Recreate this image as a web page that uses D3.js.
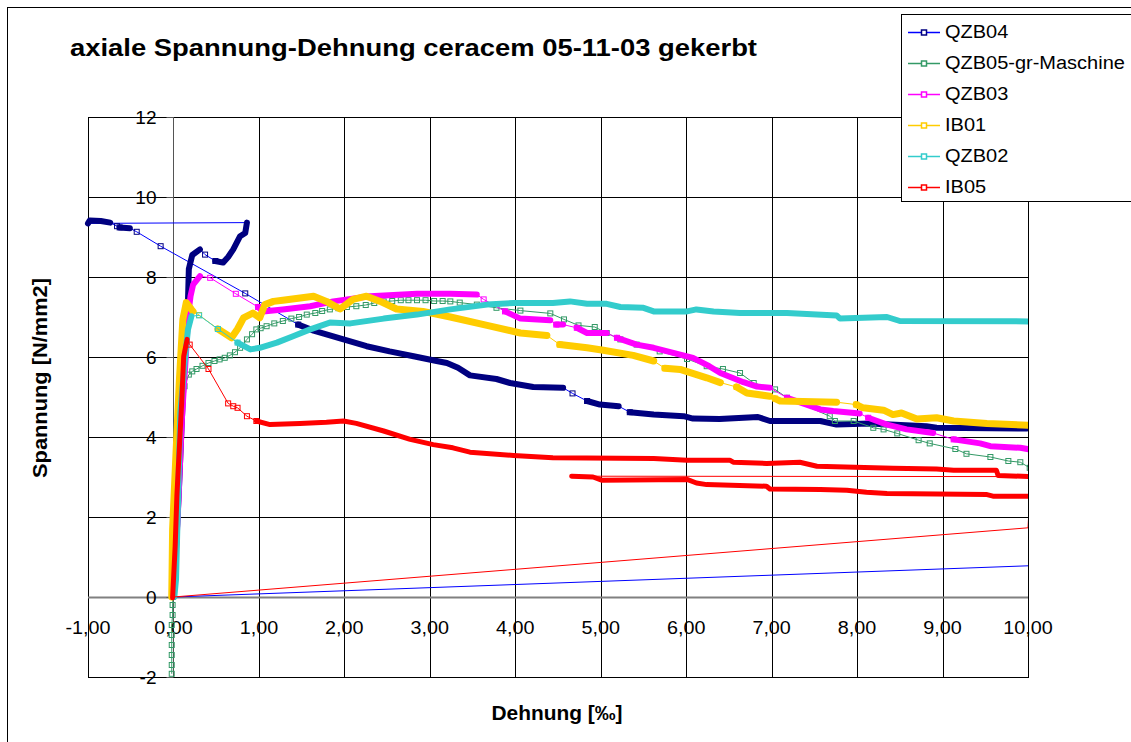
<!DOCTYPE html>
<html>
<head>
<meta charset="utf-8">
<script src="https://cdn.jsdelivr.net/npm/d3@7"></script>
<style>
  body { margin: 0; background: #fff; }
  text { font-family: "Liberation Sans", Arial, sans-serif; fill: #000; }
</style>
</head>
<body>
<svg id="chart" width="1131" height="742"></svg>
<script>
// ticks
const xTicks = [-1, 0, 1, 2, 3, 4, 5, 6, 7, 8, 9, 10];
const yTicks = [-2, 0, 2, 4, 6, 8, 10, 12];

// [Dehnung, Spannung, kind]
// kind 0 = single logged point, 1 = solid run of logged points, 2 = plain connecting line
const qzb04 = [
  [10.0, 0.78, 2], [0, 0, 2], [0.06, 2.5, 1], [0.12, 5.5, 1], [0.17, 7.4, 1], [0.18, 8.2, 1],
  [0.22, 8.55, 1], [0.31, 8.69, 1], [0.37, 8.56, 0], [0.49, 8.4, 0], [0.58, 8.36, 1], [0.64, 8.5, 1],
  [0.70, 8.69, 1], [0.78, 9.02, 1], [0.84, 9.1, 1], [0.86, 9.36, 1],
  [-1.0, 9.34, 2], [-0.98, 9.41, 1], [-0.85, 9.4, 1], [-0.74, 9.36, 1], [-0.66, 9.27, 0],
  [-0.63, 9.24, 0], [-0.51, 9.22, 1], [-0.43, 9.13, 0], [-0.15, 8.77, 0], [0.84, 7.59, 0],
  [1.46, 6.81, 0], [1.64, 6.66, 1], [1.99, 6.44, 1], [2.26, 6.27, 1], [2.53, 6.14, 1],
  [2.81, 6.02, 1], [3.08, 5.9, 1], [3.2, 5.85, 1], [3.33, 5.73, 1], [3.47, 5.54, 1],
  [3.78, 5.45, 1], [3.94, 5.35, 1], [4.21, 5.25, 1], [4.56, 5.23, 1], [4.67, 5.09, 0],
  [4.84, 4.9, 0], [4.99, 4.81, 1], [5.21, 4.77, 1], [5.34, 4.62, 0], [5.62, 4.56, 1],
  [5.97, 4.52, 1], [6.08, 4.46, 1], [6.39, 4.45, 1], [6.84, 4.5, 1], [6.98, 4.4, 1],
  [7.57, 4.4, 1], [7.76, 4.31, 1], [8.15, 4.34, 1], [8.81, 4.27, 1], [8.93, 4.23, 1],
  [9.98, 4.21, 1]
];
const qzb05 = [
  [-0.02, -1.92, 0], [-0.02, -1.7, 0], [-0.02, -1.45, 0], [-0.02, -1.2, 0], [-0.02, -0.95, 0],
  [-0.02, -0.7, 0], [-0.01, -0.45, 0], [-0.01, -0.2, 0], [0, 0.3, 0], [0.02, 1.3, 0],
  [0.04, 2.5, 0], [0.06, 3.5, 0], [0.1, 4.6, 0], [0.13, 5.27, 0], [0.18, 5.56, 0],
  [0.22, 5.64, 0], [0.27, 5.7, 0], [0.34, 5.78, 0], [0.41, 5.85, 0], [0.48, 5.9, 0],
  [0.54, 5.94, 0], [0.6, 5.98, 0], [0.66, 6.04, 0], [0.72, 6.12, 0], [0.78, 6.23, 0],
  [0.86, 6.44, 0], [0.92, 6.57, 0], [0.97, 6.69, 0], [1.02, 6.72, 0], [1.09, 6.77, 0],
  [1.18, 6.84, 0], [1.28, 6.9, 0], [1.38, 6.96, 0], [1.47, 7.0, 0], [1.56, 7.06, 0],
  [1.66, 7.1, 0], [1.74, 7.15, 0], [1.83, 7.19, 0], [1.93, 7.22, 0], [2.03, 7.25, 0],
  [2.14, 7.27, 0], [2.25, 7.3, 0], [2.35, 7.35, 0], [2.46, 7.39, 0], [2.56, 7.4, 0],
  [2.66, 7.42, 0], [2.75, 7.42, 0], [2.85, 7.42, 0], [2.95, 7.42, 0], [3.05, 7.4, 0],
  [3.15, 7.4, 0], [3.24, 7.39, 0], [3.35, 7.36, 0], [3.55, 7.31, 0], [3.78, 7.23, 0],
  [4.06, 7.16, 0], [4.41, 7.09, 0], [4.57, 6.94, 0], [4.74, 6.79, 0], [4.93, 6.75, 0],
  [5.07, 6.6, 0], [5.23, 6.44, 0], [5.42, 6.31, 0], [5.69, 6.14, 0], [6.01, 5.95, 0],
  [6.24, 5.77, 0], [6.43, 5.7, 0], [6.63, 5.6, 0], [6.79, 5.35, 0], [7.04, 5.19, 0],
  [7.18, 4.98, 0], [7.68, 4.52, 0], [7.74, 4.4, 0], [7.96, 4.4, 0], [8.19, 4.23, 0],
  [8.31, 4.19, 0], [8.47, 4.09, 0], [8.72, 3.92, 0], [8.85, 3.84, 0], [9.15, 3.7, 0],
  [9.28, 3.58, 0], [9.56, 3.5, 0], [9.77, 3.4, 0], [9.91, 3.37, 0], [10.02, 3.23, 0]
];
const qzb03 = [
  [0, 0, 2], [0.05, 2.0, 1], [0.1, 4.5, 1], [0.15, 6.2, 1], [0.17, 7.02, 1], [0.2, 7.52, 1],
  [0.23, 7.81, 1], [0.31, 8.02, 1], [0.43, 7.98, 0], [0.73, 7.58, 0], [0.99, 7.25, 0],
  [1.05, 7.14, 1], [1.28, 7.19, 1], [1.6, 7.27, 1], [1.87, 7.39, 1], [2.3, 7.52, 1],
  [2.85, 7.58, 1], [3.24, 7.58, 1], [3.55, 7.56, 1], [3.63, 7.44, 0], [3.88, 7.14, 0],
  [4.06, 6.96, 1], [4.41, 6.92, 1], [4.48, 6.81, 0], [4.56, 6.81, 1], [4.72, 6.73, 0],
  [4.84, 6.6, 1], [5.07, 6.6, 1], [5.19, 6.48, 0], [5.42, 6.31, 1], [5.62, 6.23, 1],
  [5.93, 6.06, 1], [6.08, 5.98, 1], [6.27, 5.77, 1], [6.4, 5.6, 1], [6.67, 5.37, 1],
  [6.83, 5.26, 1], [6.98, 5.23, 1], [7.18, 4.98, 0], [7.57, 4.69, 1], [7.72, 4.65, 1],
  [8.03, 4.59, 1], [8.13, 4.48, 0], [8.35, 4.31, 1], [8.58, 4.19, 1], [8.89, 4.1, 1],
  [9.13, 3.94, 0], [9.44, 3.84, 1], [9.56, 3.77, 1], [9.91, 3.73, 1], [10.02, 3.69, 1]
];
const ib01 = [
  [-0.02, 0, 2], [-0.01, 1.69, 1], [0.03, 3.6, 1], [0.07, 5.44, 1], [0.11, 6.94, 1],
  [0.15, 7.36, 1], [0.21, 7.19, 1], [0.23, 7.14, 1], [0.3, 7.05, 0], [0.52, 6.7, 0],
  [0.58, 6.62, 1], [0.68, 6.48, 1], [0.75, 6.7, 1], [0.82, 6.98, 1], [0.93, 7.1, 1],
  [1.01, 6.98, 1], [1.07, 7.31, 1], [1.17, 7.39, 1], [1.28, 7.42, 1], [1.64, 7.52, 1],
  [1.79, 7.39, 1], [1.95, 7.2, 1], [2.1, 7.44, 1], [2.26, 7.52, 1], [2.42, 7.39, 1],
  [2.61, 7.2, 1], [2.92, 7.14, 1], [3.24, 7.0, 1], [3.67, 6.79, 1], [4.06, 6.6, 1],
  [4.37, 6.54, 1], [4.52, 6.31, 0], [4.84, 6.23, 1], [5.03, 6.17, 1], [5.38, 6.04, 1],
  [5.62, 5.9, 1], [5.75, 5.72, 0], [5.93, 5.69, 1], [6.24, 5.48, 1], [6.4, 5.36, 1],
  [6.59, 5.25, 0], [6.71, 5.1, 1], [6.98, 5.02, 1], [7.04, 4.96, 0], [7.1, 4.9, 1],
  [7.76, 4.87, 1], [7.99, 4.81, 0], [8.07, 4.73, 1], [8.31, 4.67, 1], [8.42, 4.56, 1],
  [8.52, 4.6, 1], [8.7, 4.45, 1], [8.93, 4.48, 1], [9.13, 4.4, 1], [9.52, 4.34, 1],
  [10.02, 4.29, 1]
];
const qzb02 = [
  [0.01, 0, 2], [0.03, 0.44, 1], [0.06, 2.94, 1], [0.08, 4.6, 1], [0.13, 5.85, 1],
  [0.17, 6.69, 1], [0.21, 7.02, 1], [0.3, 7.04, 0], [0.52, 6.7, 0], [0.75, 6.36, 0],
  [0.9, 6.19, 1], [1.01, 6.23, 1], [1.21, 6.36, 1], [1.4, 6.52, 1], [1.6, 6.69, 1],
  [1.83, 6.86, 1], [2.07, 6.84, 1], [2.46, 6.96, 1], [2.85, 7.06, 1], [3.24, 7.19, 1],
  [3.67, 7.31, 1], [3.98, 7.35, 1], [4.44, 7.35, 1], [4.64, 7.39, 1], [4.84, 7.33, 1],
  [5.07, 7.33, 1], [5.23, 7.25, 1], [5.5, 7.23, 1], [5.62, 7.14, 1], [6.01, 7.14, 1],
  [6.12, 7.19, 1], [6.32, 7.14, 1], [6.63, 7.1, 1], [7.18, 7.1, 1], [7.76, 7.04, 1],
  [7.8, 6.96, 1], [8.35, 7.0, 1], [8.5, 6.9, 1], [10.02, 6.89, 1]
];
const ib05 = [
  [-0.01, -0.02, 2], [0.02, 1.27, 1], [0.04, 2.52, 1], [0.07, 3.77, 1], [0.1, 5.02, 1],
  [0.12, 6.02, 1], [0.16, 6.44, 1], [0.19, 6.31, 0], [0.41, 5.7, 0], [0.64, 4.84, 0],
  [0.7, 4.77, 0], [0.75, 4.73, 0], [0.86, 4.52, 0], [0.97, 4.4, 0], [1.13, 4.31, 1],
  [1.48, 4.34, 1], [1.79, 4.37, 1], [1.99, 4.4, 1], [2.14, 4.34, 1], [2.46, 4.15, 1],
  [2.77, 3.94, 1], [3.04, 3.81, 1], [3.27, 3.73, 1], [3.47, 3.62, 1], [3.98, 3.54, 1],
  [4.44, 3.48, 1], [5.62, 3.46, 1], [6.01, 3.42, 1], [6.51, 3.42, 1], [6.55, 3.37, 1],
  [6.94, 3.34, 1], [7.33, 3.37, 1], [7.53, 3.27, 1], [8.42, 3.22, 1], [8.93, 3.2, 1],
  [9.13, 3.17, 1], [9.63, 3.17, 1], [9.65, 3.04, 1], [10.02, 3.01, 1],
  [4.66, 3.02, 2], [4.91, 3.0, 1], [5.01, 2.92, 1], [6.01, 2.94, 1], [6.12, 2.85, 1],
  [6.24, 2.81, 1], [6.94, 2.77, 1], [6.98, 2.7, 1], [7.57, 2.69, 1], [7.88, 2.67, 1],
  [8.11, 2.62, 1], [8.35, 2.59, 1], [9.52, 2.56, 1], [9.59, 2.52, 1], [10.02, 2.52, 1],
  [10.0, 1.73, 2], [0, 0, 2]
];

const seriesNames = ['QZB04', 'QZB05-gr-Maschine', 'QZB03', 'IB01', 'QZB02', 'IB05'];
const seriesData = [qzb04, qzb05, qzb03, ib01, qzb02, ib05];
const lineColors = ['#0000ff', '#339966', '#ff00ff', '#ffcc00', '#33cccc', '#ff0000'];
const markerColors = ['#000080', '#339966', '#ff00ff', '#ffcc00', '#33cccc', '#ff0000'];
const bandWidths = [6, 0, 6, 7, 6, 5];

const svg = d3.select('#chart');
const plot = {left: 88, right: 1028, top: 117, bottom: 677};
const x = d3.scaleLinear().domain([-1, 10]).range([plot.left, plot.right]);
const y = d3.scaleLinear().domain([-2, 12]).range([plot.bottom, plot.top]);
const de = d3.formatLocale({decimal: ',', thousands: '.', grouping: [3], currency: ['', ''], minus: '-'});
const fmtX = de.format('.2f');
const fmtY = de.format('d');

// the original picture is a little wider than its fonts
function widen(sel, k) {
  sel.each(function () {
    const w = this.getComputedTextLength();
    d3.select(this).attr('textLength', w * k).attr('lengthAdjust', 'spacingAndGlyphs');
  });
}

// outer chart frame
svg.append('rect')
  .attr('x', 7.5).attr('y', 7.5)
  .attr('width', 1140).attr('height', 750)
  .attr('fill', '#fff').attr('stroke', '#000');

svg.append('text')
  .attr('x', 70).attr('y', 56)
  .attr('font-size', 23).attr('font-weight', 'bold')
  .attr('textLength', 687).attr('lengthAdjust', 'spacingAndGlyphs')
  .text('axiale Spannung-Dehnung ceracem 05-11-03 gekerbt');

// grid
const grid = svg.append('g');
grid.selectAll('.vg').data(xTicks).enter().append('line')
  .attr('x1', d => Math.round(x(d)) + 0.5).attr('x2', d => Math.round(x(d)) + 0.5)
  .attr('y1', plot.top).attr('y2', plot.bottom)
  .attr('stroke', '#000');
grid.selectAll('.hg').data(yTicks).enter().append('line')
  .attr('x1', plot.left).attr('x2', plot.right)
  .attr('y1', d => Math.round(y(d)) + 0.5).attr('y2', d => Math.round(y(d)) + 0.5)
  .attr('stroke', '#000');
svg.append('rect')
  .attr('x', plot.left + 0.5).attr('y', plot.top + 0.5)
  .attr('width', plot.right - plot.left).attr('height', plot.bottom - plot.top)
  .attr('fill', 'none').attr('stroke', '#000');

// axes crossing at 0
const x0 = Math.round(x(0)) + 0.5;
const y0 = Math.round(y(0)) + 0.5;
svg.append('line')
  .attr('x1', plot.left).attr('x2', plot.right).attr('y1', y0).attr('y2', y0)
  .attr('stroke', '#808080').attr('stroke-width', 2);
svg.append('line')
  .attr('x1', x0).attr('x2', x0).attr('y1', plot.top).attr('y2', plot.bottom)
  .attr('stroke', '#555');
svg.selectAll('.ytick').data(yTicks).enter().append('line')
  .attr('x1', x0 - 7).attr('x2', x0)
  .attr('y1', d => Math.round(y(d)) + 0.5).attr('y2', d => Math.round(y(d)) + 0.5)
  .attr('stroke', '#555');
svg.selectAll('.ylab').data(yTicks).enter().append('text')
  .attr('x', x0 - 17).attr('y', d => y(d)).attr('dy', '0.36em')
  .attr('text-anchor', 'end').attr('font-size', 19)
  .text(d => fmtY(d));
svg.selectAll('.xlab').data(xTicks).enter().append('text')
  .attr('x', d => x(d)).attr('y', y(0) + 30).attr('dy', '0.36em')
  .attr('text-anchor', 'middle').attr('font-size', 19)
  .text(d => fmtX(d))
  .call(widen, 1.04);

svg.append('text')
  .attr('transform', 'translate(47,378) rotate(-90)')
  .attr('text-anchor', 'middle').attr('font-size', 20).attr('font-weight', 'bold')
  .attr('textLength', 200).attr('lengthAdjust', 'spacingAndGlyphs')
  .text('Spannung [N/mm2]');
svg.append('text')
  .attr('x', 557).attr('y', 720)
  .attr('text-anchor', 'middle').attr('font-size', 20).attr('font-weight', 'bold')
  .attr('textLength', 131).attr('lengthAdjust', 'spacingAndGlyphs')
  .text('Dehnung [‰]');

// series
svg.append('clipPath').attr('id', 'plotClip')
  .append('rect')
  .attr('x', plot.left - 4).attr('y', plot.top)
  .attr('width', plot.right - plot.left + 4).attr('height', plot.bottom - plot.top);
const lineGen = d3.line().x(p => x(p[0])).y(p => y(p[1]));
const series = svg.append('g').attr('clip-path', 'url(#plotClip)');

seriesData.forEach((pts, si) => {
  const g = series.append('g');
  g.append('path')
    .attr('d', lineGen(pts))
    .attr('fill', 'none').attr('stroke', lineColors[si]).attr('stroke-width', 1);

  // solid runs of logged points
  const runs = [];
  let run = null;
  pts.forEach((p, i) => {
    if (i > 0 && p[2] === 1) {
      if (!run) { run = [pts[i - 1]]; runs.push(run); }
      run.push(p);
    } else {
      run = null;
    }
  });
  if (bandWidths[si] > 0) {
    g.selectAll('.band').data(runs).enter().append('path')
      .attr('d', lineGen)
      .attr('fill', 'none').attr('stroke', markerColors[si])
      .attr('stroke-width', bandWidths[si])
      .attr('stroke-linejoin', 'round').attr('stroke-linecap', 'round');
  }

  const marked = pts.filter(p => p[2] === 0 || (p[2] === 1 && bandWidths[si] === 0));
  g.selectAll('.mk').data(marked).enter().append('rect')
    .attr('x', p => x(p[0]) - 2.5).attr('y', p => y(p[1]) - 2.5)
    .attr('width', 5).attr('height', 5)
    .attr('fill', 'none').attr('stroke', markerColors[si]).attr('stroke-width', 1);
});

// legend
const legend = svg.append('g').attr('transform', 'translate(901,14)');
legend.append('rect')
  .attr('x', 0.5).attr('y', 0.5).attr('width', 260).attr('height', 187)
  .attr('fill', '#fff').attr('stroke', '#000');
const item = legend.selectAll('.item').data(seriesNames).enter().append('g')
  .attr('transform', (d, i) => `translate(0,${18 + i * 31})`);
item.append('line')
  .attr('x1', 7).attr('x2', 39).attr('y1', 0.5).attr('y2', 0.5)
  .attr('stroke', (d, i) => lineColors[i]).attr('stroke-width', 1.5);
item.append('rect')
  .attr('x', 20.5).attr('y', -2).attr('width', 5).attr('height', 5)
  .attr('fill', '#fff').attr('stroke', (d, i) => markerColors[i]).attr('stroke-width', 1.5);
item.append('text')
  .attr('x', 44).attr('y', 0).attr('dy', '0.36em')
  .attr('font-size', 18)
  .text(d => d)
  .call(widen, 1.11);
</script>
</body>
</html>
